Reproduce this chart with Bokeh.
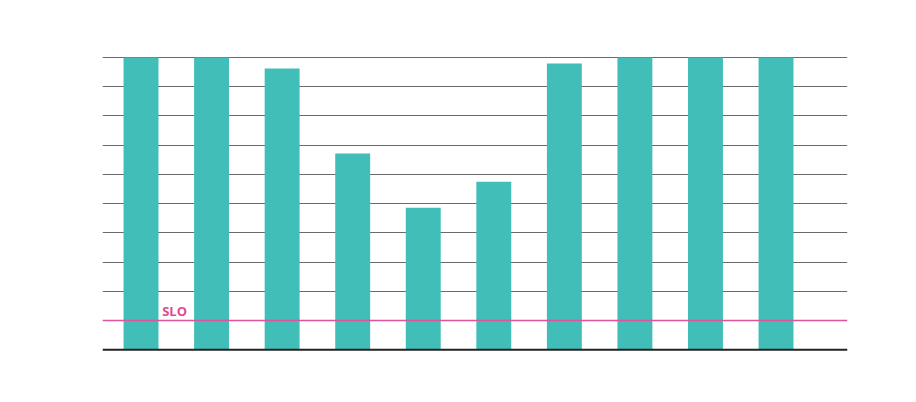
from bokeh.plotting import figure
from bokeh.models import ColumnDataSource, Span, Label, FixedTicker, Range1d
from bokeh.embed import file_html
from bokeh.resources import INLINE

categories = ["1", "2", "3", "4", "5", "6", "7", "8", "9", "10"]
values = [100, 100, 96.2, 67.1, 48.6, 57.5, 97.9, 100, 100, 100]
slo = 10
grid_ticks = [20, 30, 40, 50, 60, 70, 80, 90, 100]

xs = list(range(len(categories)))
src = ColumnDataSource(dict(x=xs, top=values, cat=categories))

p = figure(width=900, height=386, output_backend="svg", toolbar_location=None,
           x_range=Range1d(-0.546, 10.013), y_range=Range1d(-3, 101),
           frame_width=745, frame_height=304,
           min_border_left=102, min_border_right=53, min_border_top=54, min_border_bottom=28)
p.outline_line_color = None
p.xaxis.visible = False
p.yaxis.visible = False
p.xgrid.grid_line_color = None
p.ygrid.ticker = FixedTicker(ticks=grid_ticks)
p.ygrid.grid_line_color = "#6a6a6a"
p.ygrid.grid_line_width = 1.2

p.vbar(x="x", top="top", bottom=0, width=0.495, source=src,
       fill_color="#41beb7", line_color=None)

p.add_layout(Span(location=0, dimension="width", line_color="#222222", line_width=2))
p.add_layout(Span(location=slo, dimension="width", line_color="#e0529c", line_width=1.6))
p.add_layout(Label(x=0.3, y=slo, text="SLO", text_color="#e04a95", text_font="Open Sans",
                   text_font_style="bold", text_font_size="13px", y_offset=1))

open("out.html", "w").write(file_html(p, INLINE))
